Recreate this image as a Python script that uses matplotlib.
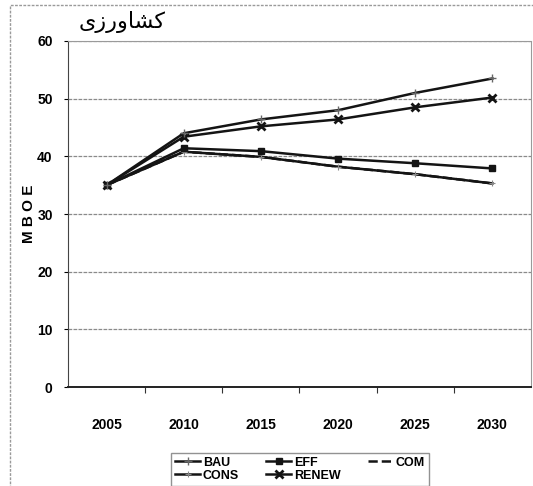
import numpy as np
import matplotlib.pyplot as plt
from matplotlib.patches import Rectangle

# Sector: agriculture (کشاورزی), energy demand by scenario
years = ["2005", "2010", "2015", "2020", "2025", "2030"]
bau = [35.0, 44.0, 46.4, 48.0, 51.0, 53.5]
eff = [35.0, 41.4, 40.9, 39.6, 38.8, 37.9]
com = [35.0, 40.8, 39.9, 38.2, 36.9, 35.3]
cons = [35.0, 40.8, 39.9, 38.2, 36.9, 35.3]
renew = [35.0, 43.4, 45.2, 46.4, 48.5, 50.2]

# presentation forms, laid out left to right
titulo = "\uFBFC\uFEAF\uFEAD\uFEED\uFE8E\uFEB8\uFB90"

fonte = ['Liberation Sans Narrow', 'Liberation Sans', 'DejaVu Sans']

fig = plt.figure(figsize=(5.33, 4.86), dpi=100)
ax = fig.add_axes([68 / 533, 1 - 387 / 486, 463 / 533, 346 / 486])

# moldura externa
fig.patches.append(Rectangle((10 / 533, -0.05), 1.1, 1 - 5 / 486 + 0.05,
                             transform=fig.transFigure, fill=False,
                             ec="#9a9a9a", lw=1.0, ls=(0, (2, 1))))

x = np.arange(len(years))
cor = "#141414"
ax.plot(x, com, color=cor, lw=1.8, ls="--", label="COM", zorder=2)
ax.plot(x, cons, color=cor, lw=1.8, marker="+", ms=5, mew=0.8,
        mec="#888888", label="CONS", zorder=3)
ax.plot(x, eff, color=cor, lw=1.8, marker="s", ms=5, label="EFF", zorder=3)
ax.plot(x, renew, color=cor, lw=1.8, marker="x", ms=6, mew=2.0,
        label="RENEW", zorder=3)
ax.plot(x, bau, color=cor, lw=1.8, marker="+", ms=6, mew=1.0,
        mec="#666666", label="BAU", zorder=3)

ax.set_xlim(-0.5, 5.5)
ax.set_ylim(0, 60)
ax.set_yticks(np.arange(0, 61, 10))
ax.set_xticks(np.arange(0.5, 5, 1))
ax.set_xticklabels([])
ax.set_xticks(x, minor=True)
ax.set_xticklabels(years, minor=True)
ax.tick_params(axis="x", which="major", length=4, direction="out", color="#333333")
ax.tick_params(axis="x", which="minor", length=0, pad=22)
ax.tick_params(axis="y", length=3, direction="out", pad=8)
for lab in ax.get_xticklabels(minor=True) + ax.get_yticklabels():
    lab.set_family(fonte)
    lab.set_fontweight("bold")
    lab.set_fontsize(10)

ax.grid(axis="y", color="#8a8a8a", lw=0.9, ls=(0, (3, 1)))
ax.set_axisbelow(True)
ax.spines["top"].set_color("#9a9a9a")
ax.spines["top"].set_linestyle((0, (3, 1)))
ax.spines["right"].set_color("#9a9a9a")
ax.spines["right"].set_linestyle((0, (3, 1)))
ax.spines["left"].set_color("#444444")
ax.spines["bottom"].set_color("#222222")
ax.spines["bottom"].set_linewidth(1.4)

ax.set_ylabel("M B O E", family=fonte, fontweight="bold", fontsize=11, labelpad=1)

fig.text(122 / 533, 1 - 22 / 486, titulo, family="DejaVu Sans", fontsize=16,
         ha="center", va="center")

ordem = ["BAU", "CONS", "EFF", "RENEW", "COM"]
h, l = ax.get_legend_handles_labels()
m = dict(zip(l, h))
leg = fig.legend([m[k] for k in ordem], ordem, ncol=3, loc="lower center",
                 bbox_to_anchor=(300 / 533, -0.012), frameon=True, fancybox=False,
                 edgecolor="#777777", handlelength=2.0, columnspacing=2.2,
                 handletextpad=0.2, labelspacing=0.1, borderpad=0.3,
                 prop={"family": fonte, "weight": "bold", "size": 9})

fig.savefig("out.png", dpi=100)
